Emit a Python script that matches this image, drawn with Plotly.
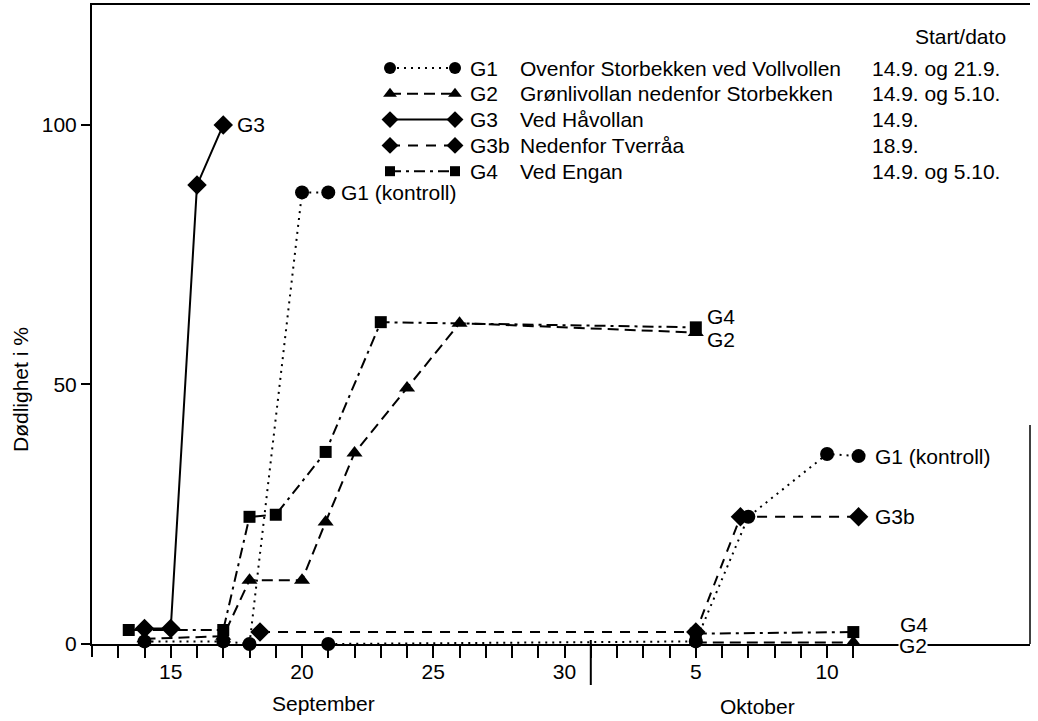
import plotly.graph_objects as go

# ---------------- data (x = day number: September d -> d, October d -> 30 + d) ----------------
g1a_x = [14, 17, 18, 20, 21]
g1a_y = [0.5, 0.5, 0, 87, 87]
g1b_x = [21, 35, 37, 40, 41.2]
g1b_y = [0, 0.5, 24.5, 36.6, 36.2]

g2a_x = [14, 17, 18, 20, 20.9, 22, 24, 26, 35]
g2a_y = [1, 1.5, 12.3, 12.3, 23.5, 36.8, 49.3, 61.8, 60]
g2b_x = [35, 41]
g2b_y = [0.3, 0.3]

g3_x = [14, 15, 16, 17]
g3_y = [3, 3, 88.4, 100]

g3b_x = [18.4, 35, 36.7, 41.2]
g3b_y = [2.3, 2.3, 24.5, 24.5]

g4a_x = [13.4, 17, 18, 19, 20.9, 23, 35]
g4a_y = [2.7, 2.7, 24.5, 24.9, 37, 62, 61]
g4b_x = [35, 41]
g4b_y = [2.0, 2.3]

tick_days = list(range(13, 42))
tick_labels = {15: "15", 20: "20", 25: "25", 30: "30", 35: "5", 40: "10"}
y_ticks = [0, 50, 100]

legend_codes = ["G1", "G2", "G3", "G3b", "G4"]
legend_names = ["Ovenfor Storbekken ved Vollvollen", "Grønlivollan nedenfor Storbekken",
                "Ved Håvollan", "Nedenfor Tverråa", "Ved Engan"]
legend_dates = ["14.9. og 21.9.", "14.9. og 5.10.", "14.9.", "18.9.", "14.9. og 5.10."]

# ---------------- layout constants ----------------
W, H = 1038, 721
ML, MR, MT, MB = 92, 8, 5, 77
XMIN, XMAX = 12, 47.73
YMIN, YMAX = 0, 123.1
PW, PH = W - ML - MR, H - MT - MB
FONT = "Liberation Sans, Arial, sans-serif"
FS = 21

styles = {
    "G1": dict(dash="2px,5px", symbol="circle", size=14),
    "G2": dict(dash="11px,6px", symbol="triangle-up", size=14),
    "G3": dict(dash="solid", symbol="diamond", size=15),
    "G3b": dict(dash="10px,8px", symbol="diamond", size=15),
    "G4": dict(dash="11px,5px,3px,5px", symbol="square", size=12),
}


def paper_x(day):
    return (day - XMIN) / (XMAX - XMIN)


def paper_from_px(px):
    return (px - ML) / PW


def paper_from_py(py):
    return (H - MB - py) / PH


fig = go.Figure()


def add_series(x, y, code):
    s = styles[code]
    fig.add_trace(go.Scatter(
        x=x, y=y, mode="lines+markers", cliponaxis=False, showlegend=False,
        line=dict(color="black", width=2, dash=s["dash"]),
        marker=dict(color="black", symbol=s["symbol"], size=s["size"]),
        hoverinfo="skip"))


add_series(g1a_x, g1a_y, "G1")
add_series(g1b_x, g1b_y, "G1")
add_series(g2a_x, g2a_y, "G2")
add_series(g2b_x, g2b_y, "G2")
add_series(g3_x, g3_y, "G3")
add_series(g3b_x, g3b_y, "G3b")
add_series(g4a_x, g4a_y, "G4")
add_series(g4b_x, g4b_y, "G4")

# ---------------- legend (drawn on a pixel overlay axis) ----------------
LEG_X0, LEG_X1, LEG_Y0, LEG_DY = 390, 455, 68, 25.8
annotations = []
for i, code in enumerate(legend_codes):
    s = styles[code]
    yy = LEG_Y0 + i * LEG_DY
    fig.add_trace(go.Scatter(
        x=[LEG_X0, LEG_X1], y=[yy, yy], xaxis="x2", yaxis="y2",
        mode="lines+markers", showlegend=False, hoverinfo="skip", cliponaxis=False,
        line=dict(color="black", width=2, dash=s["dash"]),
        marker=dict(color="black", symbol=s["symbol"], size=s["size"] - 2)))
    annotations.append(dict(x=468, y=yy, xref="x2", yref="y2", text=code, showarrow=False,
                            xanchor="left", yanchor="middle", font=dict(size=FS)))
    annotations.append(dict(x=518, y=yy, xref="x2", yref="y2", text=legend_names[i],
                            showarrow=False, xanchor="left", yanchor="middle", font=dict(size=FS)))
    annotations.append(dict(x=870, y=yy, xref="x2", yref="y2", text=legend_dates[i],
                            showarrow=False, xanchor="left", yanchor="middle", font=dict(size=FS)))
annotations.append(dict(x=960, y=36, xref="x2", yref="y2", text="Start/dato", showarrow=False,
                        xanchor="center", yanchor="middle", font=dict(size=FS)))


# ---------------- end labels on the curves ----------------
def end_label(x, y, text, xs, ys, bg=None):
    d = dict(x=x[-1], y=y[-1], xref="x", yref="y", text=text, showarrow=False,
             xanchor="left", yanchor="middle", xshift=xs, yshift=ys, font=dict(size=FS))
    if bg:
        d["bgcolor"] = bg
        d["borderpad"] = 0
    annotations.append(d)


end_label(g3_x, g3_y, "G3", 12, 0)
end_label(g1a_x, g1a_y, "G1 (kontroll)", 11, 0)
end_label(g4a_x, g4a_y, "G4", 9, 11)
end_label(g2a_x, g2a_y, "G2", 9, -7)
end_label(g1b_x, g1b_y, "G1 (kontroll)", 14, 0)
end_label(g3b_x, g3b_y, "G3b", 14, 0)
end_label(g4b_x, g4b_y, "G4", 45, 8)
end_label(g2b_x, g2b_y, "G2", 45, -3, bg="white")

# axis titles
annotations.append(dict(x=paper_from_px(323), y=paper_from_py(703), xref="paper", yref="paper",
                        xanchor="center", yanchor="middle",
                        text="September", showarrow=False, font=dict(size=FS)))
annotations.append(dict(x=paper_from_px(757), y=paper_from_py(706), xref="paper", yref="paper",
                        xanchor="center", yanchor="middle",
                        text="Oktober", showarrow=False, font=dict(size=FS)))
annotations.append(dict(x=paper_from_px(20), y=paper_from_py(390), xref="paper", yref="paper",
                        xanchor="center", yanchor="middle",
                        text="Dødlighet i %", textangle=-90, showarrow=False, font=dict(size=FS)))

# ---------------- extra frame pieces ----------------
shapes = [
    # month separator tick (1 October)
    dict(type="line", xref="paper", yref="paper", x0=paper_x(31), x1=paper_x(31),
         y0=paper_from_py(685), y1=paper_from_py(640), line=dict(color="black", width=2)),
    # y-axis extension below zero
    dict(type="line", xref="paper", yref="paper", x0=0, x1=0,
         y0=paper_from_py(657), y1=0, line=dict(color="black", width=2)),
    # partial right-hand frame line
    dict(type="line", xref="paper", yref="paper", x0=1, x1=1,
         y0=0, y1=paper_from_py(425), line=dict(color="black", width=1.5)),
]

fig.update_layout(
    width=W, height=H, margin=dict(l=ML, r=MR, t=MT, b=MB, autoexpand=False),
    paper_bgcolor="white", plot_bgcolor="white",
    font=dict(family=FONT, size=FS, color="black"),
    xaxis=dict(range=[XMIN, XMAX], showgrid=False, zeroline=False, showline=True,
               linecolor="black", linewidth=2, mirror=True, automargin=False,
               ticks="outside", ticklen=12, tickwidth=2, tickcolor="black",
               ticklabelstandoff=-4,
               tickvals=tick_days, ticktext=[tick_labels.get(d, "") for d in tick_days],
               tickfont=dict(size=FS)),
    yaxis=dict(range=[YMIN, YMAX], showgrid=False, zeroline=False, showline=True,
               linecolor="black", linewidth=2, automargin=False,
               ticks="outside", ticklen=9, tickwidth=2, tickcolor="black",
               tickvals=y_ticks, ticktext=[str(v) for v in y_ticks], tickfont=dict(size=FS)),
    xaxis2=dict(overlaying="x", range=[ML, W - MR], visible=False, fixedrange=True),
    yaxis2=dict(overlaying="y", range=[H - MB, MT], visible=False, fixedrange=True),
    annotations=annotations,
    shapes=shapes,
)

fig.write_html("out.html", config={"displayModeBar": False},
               post_script="document.body.style.margin='0px';document.body.style.overflow='hidden';")
